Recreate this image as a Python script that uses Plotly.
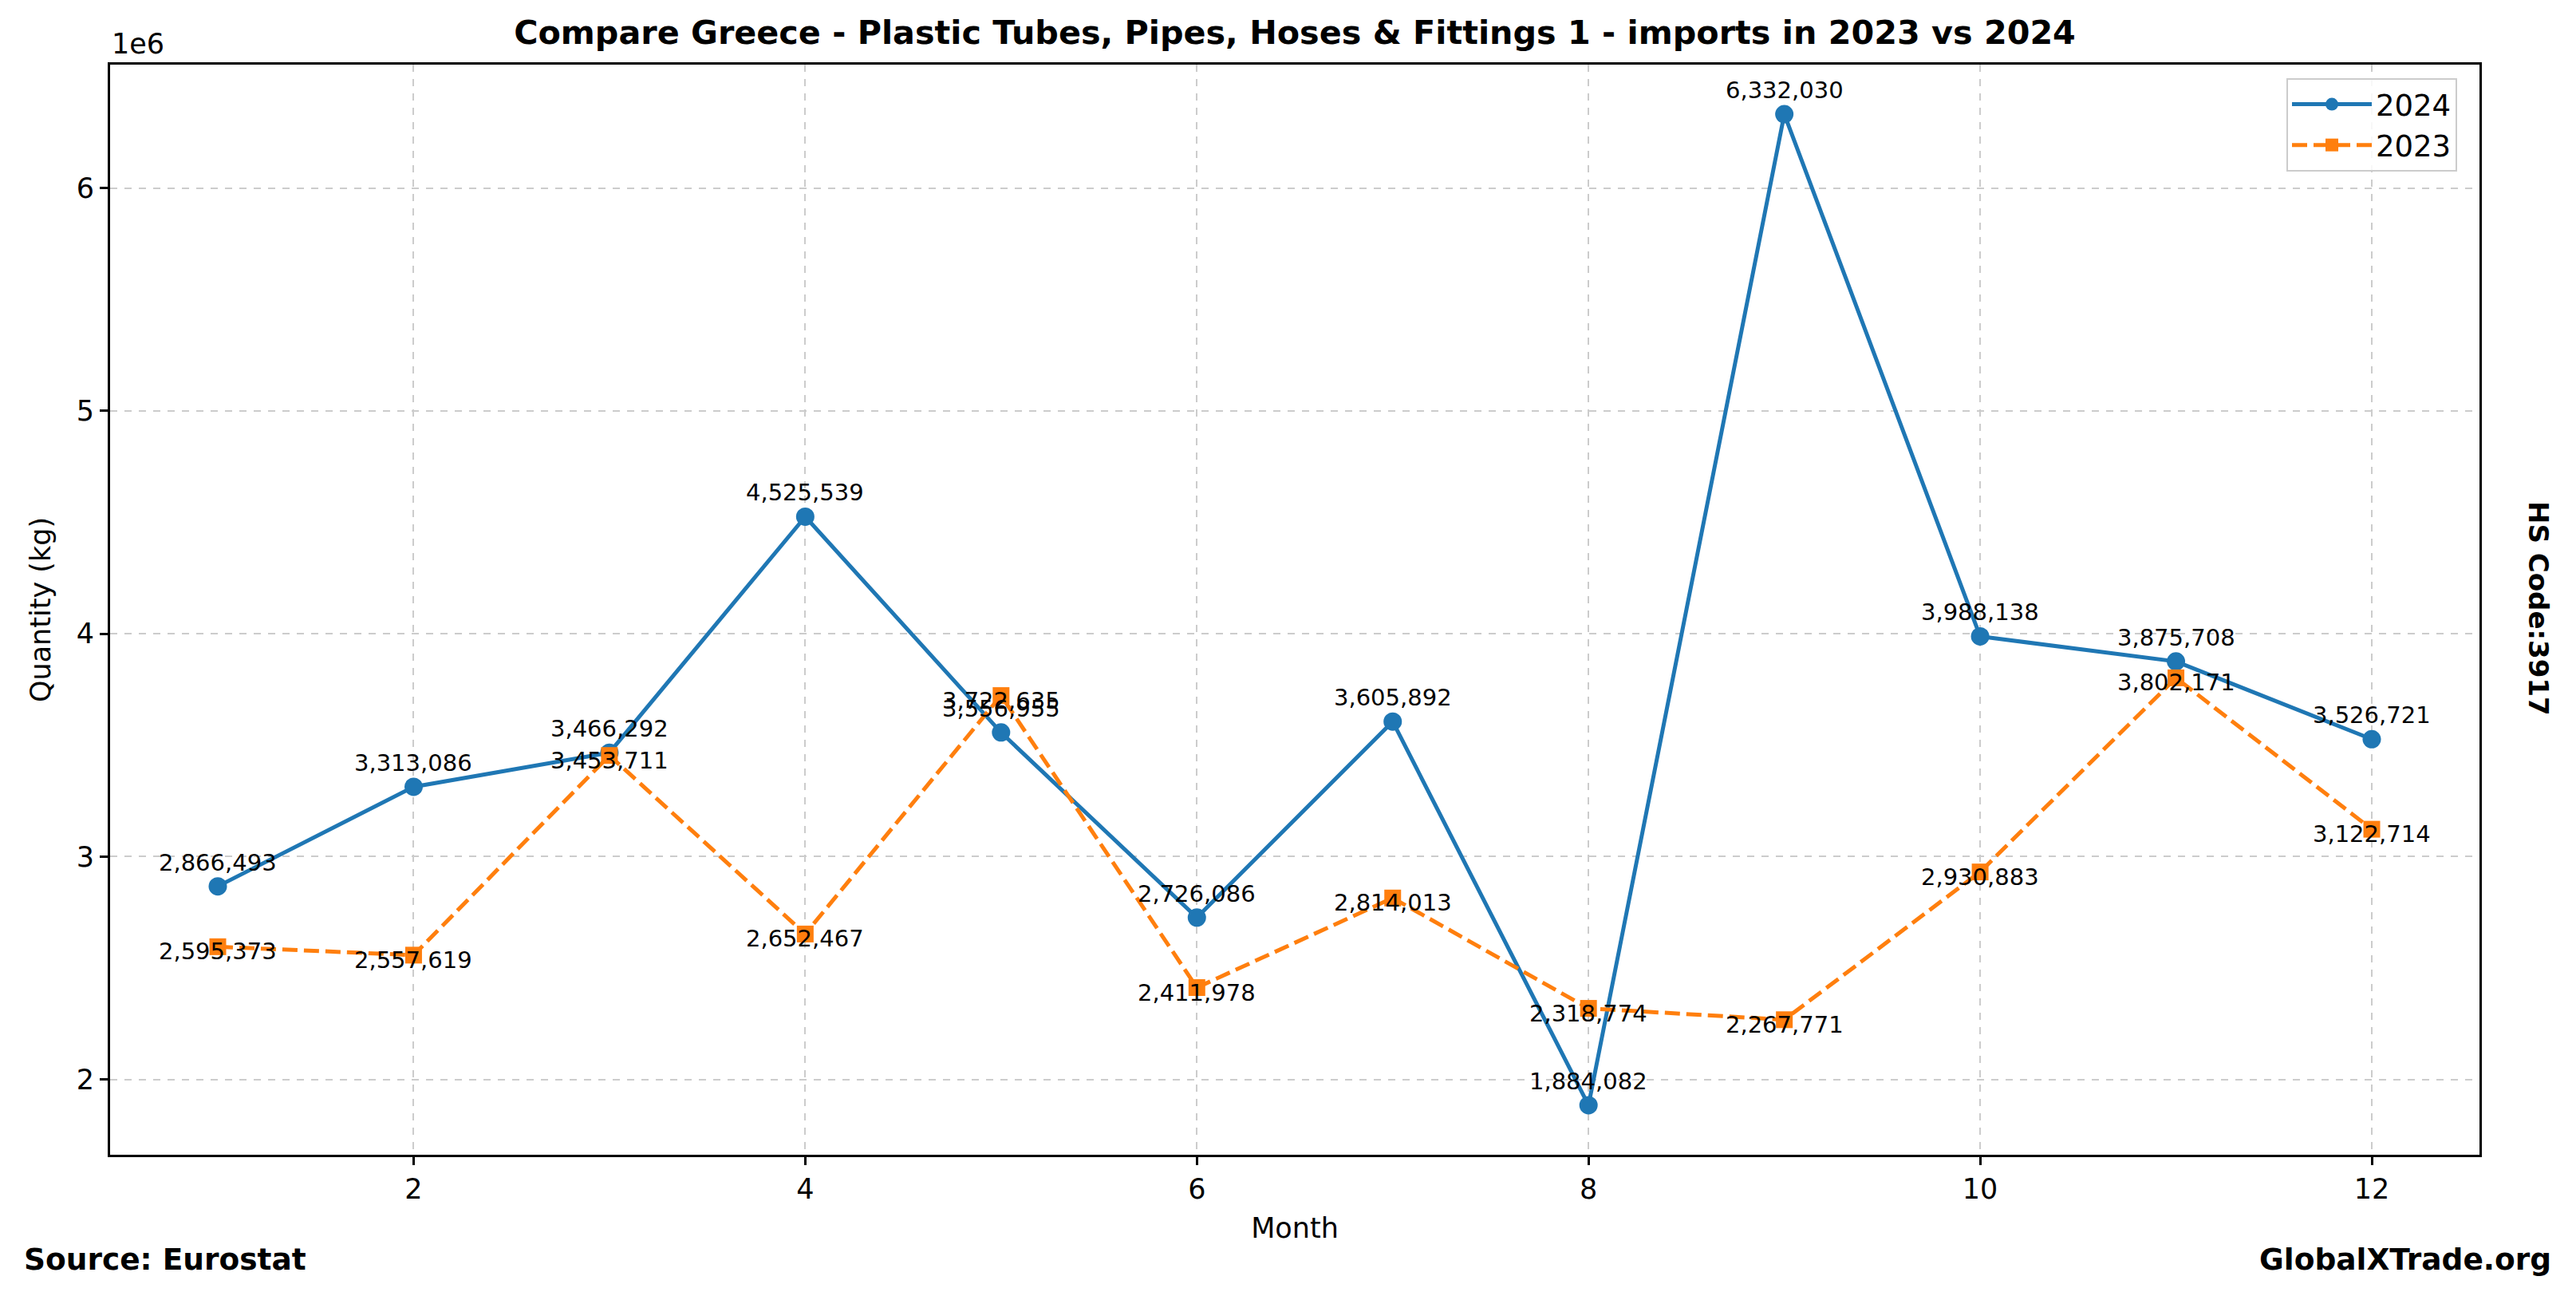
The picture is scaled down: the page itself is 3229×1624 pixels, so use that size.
import plotly.graph_objects as go

months = list(range(1, 13))
qty_2024 = [2866493, 3313086, 3466292, 4525539, 3556955, 2726086, 3605892, 1884082, 6332030, 3988138, 3875708, 3526721]
qty_2023 = [2595373, 2557619, 3453711, 2652467, 3722635, 2411978, 2814013, 2318774, 2267771, 2930883, 3802171, 3122714]
y_tickvals = [2e6, 3e6, 4e6, 5e6, 6e6]
y_ticktext = ["2", "3", "4", "5", "6"]
x_tickvals = [2, 4, 6, 8, 10, 12]

FONT = "DejaVu Sans"
BLUE = "#1f77b4"
ORANGE = "#ff7f0e"

# page has an 8px body margin; compensate
OFF = 8
W, H = 3229 - OFF, 1624 - OFF
PL, PT, PW, PH = 138, 81, 2970, 1366  # plot area in reference pixel coords


def px(x):
    return (x - PL) / PW


def py(y):
    return (PT + PH - y) / PH


fig = go.Figure()
fig.add_trace(go.Scatter(x=months, y=qty_2024, mode="lines+markers", name="2024",
                         line=dict(color=BLUE, width=5),
                         marker=dict(symbol="circle", size=23, color=BLUE)))
fig.add_trace(go.Scatter(x=months, y=qty_2023, mode="lines+markers", name="2023",
                         line=dict(color=ORANGE, width=5, dash="19px,8px"),
                         marker=dict(symbol="square", size=21, color=ORANGE)))

annotations = []
for m, v in zip(months, qty_2024):
    annotations.append(dict(x=m, y=v, xref="x", yref="y", text=f"{v:,}", showarrow=False,
                            yshift=30, font=dict(family=FONT, size=29, color="black")))
for m, v in zip(months, qty_2023):
    annotations.append(dict(x=m, y=v, xref="x", yref="y", text=f"{v:,}", showarrow=False,
                            yshift=-6, font=dict(family=FONT, size=29, color="black")))

annotations += [
    dict(x=0, y=1, xref="paper", yref="paper", text="1e6", showarrow=False,
         xanchor="left", yanchor="bottom", yshift=4, font=dict(family=FONT, size=35, color="black")),
    dict(x=px(28), y=py(1578), xref="paper", yref="paper", text="<b>Source: Eurostat</b>",
         showarrow=False, xanchor="left", yanchor="middle", font=dict(family=FONT, size=37.5, color="black")),
    dict(x=px(3200), y=py(1578), xref="paper", yref="paper", text="<b>GlobalXTrade.org</b>",
         showarrow=False, xanchor="right", yanchor="middle", font=dict(family=FONT, size=37.5, color="black")),
    dict(x=px(3182), y=py(762), xref="paper", yref="paper", text="<b>HS Code:3917</b>",
         showarrow=False, textangle=90, xanchor="center", yanchor="middle",
         font=dict(family=FONT, size=34, color="black")),
]

L, T = PL - OFF, PT - OFF
R = W - L - PW
B = H - T - PH
fig.update_layout(
    width=W, height=H,
    paper_bgcolor="white", plot_bgcolor="white",
    margin=dict(l=L, r=R, t=T, b=B, autoexpand=False),
    font=dict(family=FONT, color="black"),
    title=dict(text="<b>Compare Greece - Plastic Tubes, Pipes, Hoses & Fittings 1 - imports in 2023 vs 2024</b>",
               x=(PL + PW / 2 - OFF) / W, xanchor="center", y=1 - (41 - OFF) / H, yanchor="middle",
               font=dict(family=FONT, size=41.3, color="black")),
    showlegend=True,
    legend=dict(x=px(3080), y=py(98), xanchor="right", yanchor="top",
                bgcolor="rgba(255,255,255,0.85)", bordercolor="#cccccc", borderwidth=2,
                font=dict(family=FONT, size=37, color="black"), itemwidth=100,
                tracegroupgap=4),
    annotations=annotations,
)
fig.update_xaxes(range=[0.45, 12.55], tickvals=x_tickvals, showgrid=True, gridcolor="#cccccc",
                 griddash="dash", gridwidth=2, showline=True, linecolor="black", linewidth=3,
                 mirror=True, ticks="outside", ticklen=10, tickwidth=2.5, tickcolor="black",
                 tickfont=dict(family=FONT, size=35), zeroline=False,
                 title=dict(text="Month", font=dict(family=FONT, size=35), standoff=18))
fig.update_yaxes(range=[1661700, 6554400], tickvals=y_tickvals, ticktext=y_ticktext, showgrid=True,
                 gridcolor="#cccccc", griddash="dash", gridwidth=2, showline=True, linecolor="black",
                 linewidth=3, mirror=True, ticks="outside", ticklen=10, tickwidth=2.5, tickcolor="black",
                 tickfont=dict(family=FONT, size=35), zeroline=False,
                 title=dict(text="Quantity (kg)", font=dict(family=FONT, size=35), standoff=22))

fig.write_html("out.html")
